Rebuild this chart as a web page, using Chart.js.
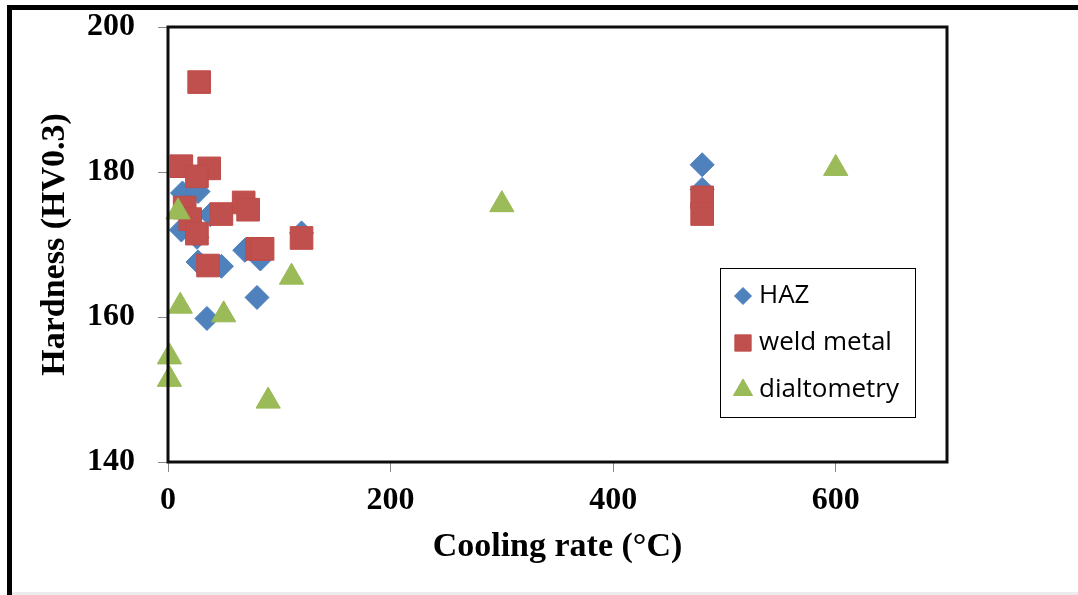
<!DOCTYPE html>
<html>
<head>
<meta charset="utf-8">
<script src="https://cdn.jsdelivr.net/npm/chart.js@4/dist/chart.umd.min.js"></script>
<style>
  html, body { margin: 0; padding: 0; background: #fff; }
  #wrap { position: relative; width: 1078px; height: 595px; overflow: hidden; }
  #frame { position: absolute; left: 7px; top: 5px; width: 1100px; height: 620px;
           border-top: 5px solid #000; border-left: 5px solid #000; }
  #foot { position: absolute; left: 12px; right: 0; top: 592px; height: 3px; background: #ececec; }
  canvas { position: absolute; left: 0; top: 0; }
</style>
</head>
<body>
<div id="wrap">
  <div id="frame"></div>
  <div id="foot"></div>
  <canvas id="c" width="1078" height="595"></canvas>
</div>
<script>
// Hardness vs cooling rate for three measurement sources
const seriesNames = ['HAZ', 'weld metal', 'dialtometry'];

const hazX = [13, 27, 38, 12, 26, 69, 83, 27, 48, 80, 35, 120, 480, 480];
const hazY = [177.1, 177.3, 174.1, 172.0, 171.0, 169.2, 168.0, 167.6, 167.0, 162.7, 159.8, 171.6, 181.0, 177.6];

const weldX = [28, 12, 37, 26, 15, 20, 26, 48, 68, 72, 80, 85, 120, 36, 480, 480];
const weldY = [192.4, 180.8, 180.5, 179.4, 175.1, 173.5, 171.5, 174.2, 175.8, 174.8, 169.4, 169.4, 170.9, 167.1, 176.5, 174.2];

const dilX = [600, 300, 111, 9, 11, 50, 1.3, 1.3, 90];
const dilY = [180.5, 175.5, 165.5, 174.5, 161.5, 160.3, 154.5, 151.4, 148.4];

const xTicks = [0, 200, 400, 600];
const yTicks = [140, 160, 180, 200];

const xTitle = 'Cooling rate (°C)';
const yTitle = 'Hardness (HV0.3)';

function pairs(xs, ys) {
  return xs.map((x, i) => ({ x: x, y: ys[i] }));
}

const serif = 'Liberation Serif, Times New Roman, serif';

// Thick frame around the plotting area, drawn over the markers
const plotFrame = {
  id: 'plotFrame',
  afterDatasetsDraw(chart) {
    const a = chart.chartArea;
    const ctx = chart.ctx;
    ctx.save();
    ctx.lineWidth = 3;
    ctx.strokeStyle = '#0d0d0d';
    ctx.strokeRect(a.left, a.top, a.right - a.left, a.bottom - a.top);
    ctx.restore();
  }
};

// Boxed legend inside the plot, markers taken from each dataset's style
const boxLegend = {
  id: 'boxLegend',
  afterDraw(chart) {
    const ctx = chart.ctx;
    const box = { x: 720.5, y: 268.5, w: 195, h: 149 };
    const rows = [296, 343, 390];
    const radii = [8.5, 11.5, 11];
    ctx.save();
    ctx.fillStyle = '#fff';
    ctx.fillRect(box.x, box.y, box.w, box.h);
    ctx.lineWidth = 1;
    ctx.strokeStyle = '#000';
    ctx.strokeRect(box.x, box.y, box.w, box.h);
    chart.data.datasets.forEach((ds, i) => {
      ctx.fillStyle = ds.backgroundColor;
      ctx.strokeStyle = ds.borderColor;
      ctx.lineWidth = 1;
      Chart.helpers.drawPoint(ctx, {
        pointStyle: ds.pointStyle, radius: radii[i], borderWidth: 1, rotation: 0
      }, 743, rows[i]);
      ctx.fillStyle = '#000';
      ctx.font = '26px "Open Sans", sans-serif';
      ctx.textAlign = 'left';
      ctx.textBaseline = 'middle';
      ctx.fillText(ds.label, 759, rows[i]);
    });
    ctx.restore();
  }
};

new Chart(document.getElementById('c'), {
  type: 'scatter',
  data: {
    datasets: [
      {
        label: seriesNames[0],
        data: pairs(hazX, hazY),
        pointStyle: 'rectRot',
        pointRadius: 12,
        backgroundColor: '#4F81BD',
        borderColor: '#4A7EBB',
        borderWidth: 1,
        order: 3,
        clip: false
      },
      {
        label: seriesNames[1],
        data: pairs(weldX, weldY),
        pointStyle: 'rect',
        pointRadius: 16,
        backgroundColor: '#C0504D',
        borderColor: '#BE4B48',
        borderWidth: 1,
        order: 2,
        clip: false
      },
      {
        label: seriesNames[2],
        data: pairs(dilX, dilY),
        pointStyle: 'triangle',
        pointRadius: 14,
        backgroundColor: '#9BBB59',
        borderColor: '#98B954',
        borderWidth: 1,
        order: 1,
        clip: false
      }
    ]
  },
  options: {
    responsive: false,
    animation: false,
    devicePixelRatio: 1,
    events: [],
    layout: { padding: { left: 0, top: 27, right: 131, bottom: 0 } },
    plugins: {
      legend: { display: false },
      tooltip: { enabled: false }
    },
    scales: {
      x: {
        type: 'linear',
        min: 0,
        max: 700,
        afterBuildTicks(scale) { scale.ticks = xTicks.map(v => ({ value: v })); },
        afterFit(scale) {
          scale.height = 133;
          scale.paddingLeft = 0;
          scale.paddingRight = 0;
        },
        border: { display: false },
        grid: { display: true, drawOnChartArea: false, drawTicks: true, tickLength: 10, color: '#888', lineWidth: 1 },
        ticks: {
          color: '#000',
          padding: 10,
          maxRotation: 0,
          font: { family: serif, size: 32, weight: 'bold' }
        },
        title: {
          display: true,
          text: xTitle,
          color: '#000',
          padding: { top: 0, bottom: 27 },
          font: { family: serif, size: 34, weight: 'bold' }
        }
      },
      y: {
        type: 'linear',
        min: 140,
        max: 200,
        afterBuildTicks(scale) { scale.ticks = yTicks.map(v => ({ value: v })); },
        afterFit(scale) {
          scale.width = 168;
          scale.paddingTop = 0;
          scale.paddingBottom = 0;
        },
        border: { display: false },
        grid: { display: true, drawOnChartArea: false, drawTicks: true, tickLength: 10, color: '#888', lineWidth: 1 },
        ticks: {
          color: '#000',
          padding: 23,
          font: { family: serif, size: 32, weight: 'bold' }
        },
        title: {
          display: true,
          text: yTitle,
          color: '#000',
          padding: { top: 35, bottom: 0 },
          font: { family: serif, size: 34, weight: 'bold' }
        }
      }
    }
  },
  plugins: [plotFrame, boxLegend]
});
</script>
</body>
</html>
